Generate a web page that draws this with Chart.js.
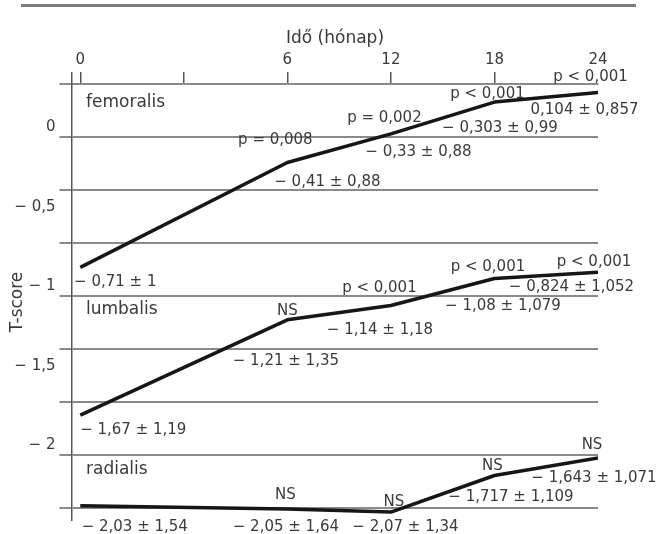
<!DOCTYPE html>
<html><head><meta charset="utf-8">
<script src="https://cdn.jsdelivr.net/npm/chart.js@4.4.1/dist/chart.umd.min.js"></script>
<style>
html,body{margin:0;padding:0;background:#fff;}
#wrap{position:relative;width:656px;height:534px;}
#rule{position:absolute;left:21px;top:4px;width:615px;height:3px;background:#7d7d7d;}
canvas{position:absolute;left:0;top:0;}
</style>
</head><body>
<div id="wrap"><div id="rule"></div><canvas id="c" width="656" height="534"></canvas></div>
<script>
// ---- data ----
const months = ['0', '6', '12', '18', '24'];
const xTickLabels = ['0', '', '6', '12', '18', '24'];
const yTickValues = [0, -0.5, -1, -1.5, -2];
const yTickLabels = ['0', '− 0,5', '− 1', '− 1,5', '− 2'];
const seriesNames = ['femoralis', 'lumbalis', 'radialis'];

const femoralis = [-0.88, -0.22, -0.04, 0.16, 0.22];
const lumbalis  = [-1.81, -1.21, -1.12, -0.95, -0.91];
const radialis  = [-2.38, -2.40, -2.42, -2.19, -2.08];

const femoralisMeans = ['− 0,71 ± 1', '− 0,41 ± 0,88', '− 0,33 ± 0,88', '− 0,303 ± 0,99', '0,104 ± 0,857'];
const femoralisP     = ['', 'p = 0,008', 'p = 0,002', 'p < 0,001', 'p < 0,001'];
const lumbalisMeans  = ['− 1,67 ± 1,19', '− 1,21 ± 1,35', '− 1,14 ± 1,18', '− 1,08 ± 1,079', '− 0,824 ± 1,052'];
const lumbalisP      = ['', 'NS', 'p < 0,001', 'p < 0,001', 'p < 0,001'];
const radialisMeans  = ['− 2,03 ± 1,54', '− 2,05 ± 1,64', '− 2,07 ± 1,34', '− 1,717 ± 1,109', '− 1,643 ± 1,071'];
const radialisP      = ['', 'NS', 'NS', 'NS', 'NS'];

// ---- layout (positions / styles) ----
const FONT = '"DejaVu Sans", "Liberation Sans", sans-serif';
const TEXT = '#3a3a3a';
const GRID = '#8a8a8a';
const AXIS = '#555555';
const yMin = -2.47, yMax = 0.274;
const gridTop = 0.274, gridStep = 1 / 3, gridCount = 9;
const seriesNameLevel = [0.16, -1.148, -2.154];
const pOffsets = [
  [null, [-12, -22], [-6.5, -16], [-7, -8], [-7.5, -15]],
  [null, [0, -9], [-11.5, -17], [-6.5, -11], [-4, -10.5]],
  [null, [-2, -13.5], [3, -10], [-2, -9], [-6, -13]]
];
const meanOffsets = [
  [[35, 15], [40, 20], [27.5, 18], [5.5, 26], [-13.5, 18]],
  [[53, 15], [-1.5, 41], [-11, 25], [8.5, 28], [-26.5, 14.5]],
  [[54.5, 21], [-1.5, 18.5], [14.5, 15], [16.5, 22], [-4, 20]]
];

const gridValues = [];
for (let k = 0; k < gridCount; k++) gridValues.push(gridTop - k * gridStep);

const toPoints = arr => arr.map((v, i) => ({ x: xTickLabels.indexOf(months[i]), y: v }));
const means = [femoralisMeans, lumbalisMeans, radialisMeans];
const pvals = [femoralisP, lumbalisP, radialisP];

const annotate = {
  id: 'annotate',
  afterDatasetsDraw(chart) {
    const ctx = chart.ctx;
    const ys = chart.scales.y;
    ctx.save();
    ctx.fillStyle = TEXT;
    chart.data.datasets.forEach((ds, di) => {
      const meta = chart.getDatasetMeta(di);
      ctx.font = '15px ' + FONT;
      ctx.textAlign = 'center';
      ctx.textBaseline = 'middle';
      meta.data.forEach((pt, i) => {
        const x = pt.x, y = pt.y;
        const p = pvals[di][i];
        if (p && pOffsets[di][i]) ctx.fillText(p, x + pOffsets[di][i][0], y + pOffsets[di][i][1]);
        const m = meanOffsets[di][i];
        ctx.fillText(means[di][i], x + m[0], y + m[1]);
      });
      ctx.font = '17px ' + FONT;
      ctx.textAlign = 'left';
      ctx.fillText(seriesNames[di], chart.chartArea.left + 14, ys.getPixelForValue(seriesNameLevel[di]));
    });
    ctx.restore();
  }
};

const mkDs = (label, arr) => ({
  label, data: toPoints(arr),
  borderColor: '#161616', borderWidth: 3.5, pointRadius: 0, tension: 0, fill: false,
  borderJoinStyle: 'round'
});

new Chart(document.getElementById('c'), {
  type: 'line',
  data: { datasets: [mkDs(seriesNames[0], femoralis), mkDs(seriesNames[1], lumbalis), mkDs(seriesNames[2], radialis)] },
  options: {
    responsive: false, animation: false, devicePixelRatio: 1,
    layout: { padding: { left: 7, top: 20, right: 58, bottom: 14 } },
    plugins: { legend: { display: false }, tooltip: { enabled: false } },
    scales: {
      x: {
        type: 'linear', position: 'top', min: -0.08, max: 5,
        afterBuildTicks: s => { s.ticks = [-0.08, 0, 1, 2, 3, 4, 5].map(v => ({ value: v })); },
        afterFit: s => { s.height = 64; },
        ticks: { autoSkip: false, maxRotation: 0, padding: 3, color: TEXT, font: { family: FONT, size: 15 },
                 callback: v => Number.isInteger(v) ? xTickLabels[v] : '' },
        grid: { drawOnChartArea: false, drawTicks: true, tickLength: 12, lineWidth: 1.5,
                color: c => (c.tick && c.tick.value === 5) ? 'rgba(0,0,0,0)' : AXIS },
        border: { display: true, color: GRID, width: 2 },
        title: { display: true, text: 'Idő (hónap)', color: TEXT, font: { family: FONT, size: 17 }, padding: { top: 8, bottom: 0 } }
      },
      y: {
        type: 'linear', position: 'left', min: yMin, max: yMax, bounds: 'data',
        afterBuildTicks: s => {
          const t = [...gridValues, ...yTickValues].sort((a, b) => a - b);
          s.ticks = t.map(v => ({ value: v }));
        },
        afterFit: s => { s.width = 65; },
        ticks: { autoSkip: false, padding: 4, color: TEXT, font: { family: FONT, size: 15 },
                 callback: v => { const k = yTickValues.indexOf(v); return k >= 0 ? yTickLabels[k] : ''; } },
        grid: { drawTicks: true, tickLength: 12.5, lineWidth: 2,
                color: c => (c.tick && yTickValues.includes(c.tick.value)) ? 'rgba(0,0,0,0)' : GRID },
        border: { display: true, color: AXIS, width: 1.5 },
        title: { display: true, text: 'T-score', color: TEXT, font: { family: FONT, size: 17 }, padding: { top: 0, bottom: 0 } }
      }
    }
  },
  plugins: [annotate]
});
</script>
</body></html>
